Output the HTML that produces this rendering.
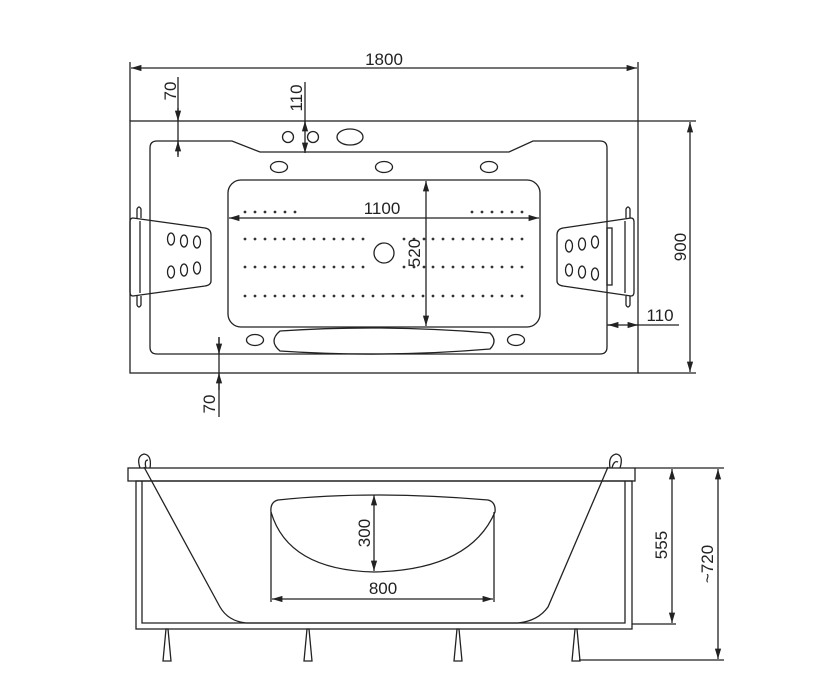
<!DOCTYPE html>
<html><head><meta charset="utf-8"><style>
html,body{margin:0;padding:0;background:#fff;}
svg{display:block;}
text{font-family:"Liberation Sans",sans-serif;font-size:17px;fill:#222;}
</style></head><body>
<svg width="826" height="698" viewBox="0 0 826 698" xmlns="http://www.w3.org/2000/svg">
<defs>
<marker id="a" viewBox="0 0 10 6" refX="10" refY="3" markerWidth="8" markerHeight="5" orient="auto-start-reverse"><path d="M0,0L10,3L0,6z" fill="#222"/></marker>
</defs>
<g fill="none" stroke="#222" stroke-width="1.3">
<line x1="130" y1="62" x2="130" y2="121"/>
<line x1="638" y1="62" x2="638" y2="121"/>
<line x1="131" y1="68" x2="637" y2="68" marker-start="url(#a)" marker-end="url(#a)"/>
<rect x="130" y="121" width="508" height="252"/>
<path d="M157,141 H232 L260,152 H509 L533,141 H600 Q607,141 607,148 V347 Q607,354 600,354 H157 Q150,354 150,347 V148 Q150,141 157,141 Z"/>
<rect x="228" y="180" width="312" height="147" rx="13"/>
<line x1="229" y1="218" x2="539" y2="218" marker-start="url(#a)" marker-end="url(#a)"/>
<line x1="426" y1="181" x2="426" y2="326" marker-start="url(#a)" marker-end="url(#a)"/>
<circle cx="384" cy="253" r="10"/>
<circle cx="288" cy="137" r="5.5"/>
<circle cx="313" cy="137" r="5.5"/>
<ellipse cx="350" cy="137" rx="13" ry="8"/>
<ellipse cx="279" cy="167" rx="8.5" ry="5.5"/>
<ellipse cx="384" cy="167" rx="8.5" ry="5.5"/>
<ellipse cx="489" cy="167" rx="8.5" ry="5.5"/>
<ellipse cx="255" cy="340" rx="8.5" ry="5.5"/>
<ellipse cx="516" cy="340" rx="8.5" ry="5.5"/>
<path d="M280,331 Q383,324 490,333 Q498,341 490,349 Q383,358 280,351 Q268,341 280,331 Z"/>
<path d="M133,218 L205,228 Q211,229 211,235 V281 Q211,285 205,286 L133,296 Q130,296 130,292 V222 Q130,218 133,218 Z"/>
<line x1="140" y1="221" x2="140" y2="293"/>
<path d="M137,218 V209 Q139,205 141,209 V218 M137,296 V305 Q139,309 141,305 V296"/>
<ellipse cx="171" cy="239" rx="3.5" ry="6"/><ellipse cx="184" cy="241" rx="3.5" ry="6"/><ellipse cx="197" cy="242" rx="3.5" ry="6"/>
<ellipse cx="171" cy="272" rx="3.5" ry="6"/><ellipse cx="184" cy="270" rx="3.5" ry="6"/><ellipse cx="197" cy="268" rx="3.5" ry="6"/>
<path d="M631,218 L563,228 Q557,229 557,235 V281 Q557,285 563,286 L631,296 Q634,296 634,292 V222 Q634,218 631,218 Z"/>
<line x1="625" y1="221" x2="625" y2="293"/>
<rect x="607" y="228" width="5" height="57"/>
<path d="M626,218 V209 Q628,205 630,209 V218 M626,296 V305 Q628,309 630,305 V296"/>
<ellipse cx="569" cy="246" rx="3.5" ry="6"/><ellipse cx="582" cy="244" rx="3.5" ry="6"/><ellipse cx="595" cy="242" rx="3.5" ry="6"/>
<ellipse cx="569" cy="270" rx="3.5" ry="6"/><ellipse cx="582" cy="272" rx="3.5" ry="6"/><ellipse cx="595" cy="274" rx="3.5" ry="6"/>
<line x1="638" y1="121" x2="696" y2="121"/>
<line x1="638" y1="373" x2="696" y2="373"/>
<line x1="690" y1="122" x2="690" y2="372" marker-start="url(#a)" marker-end="url(#a)"/>
<line x1="607" y1="325" x2="679" y2="325"/>
<line x1="618" y1="325" x2="608" y2="325" marker-end="url(#a)"/>
<line x1="628" y1="325" x2="638" y2="325" marker-end="url(#a)"/>
<line x1="178" y1="77" x2="178" y2="157"/>
<line x1="178" y1="108" x2="178" y2="121" marker-end="url(#a)"/>
<line x1="178" y1="155" x2="178" y2="141" marker-end="url(#a)"/>
<line x1="305" y1="82" x2="305" y2="153" marker-end="url(#a)"/>
<line x1="305" y1="125" x2="305" y2="121" marker-end="url(#a)"/>
<line x1="219" y1="337" x2="219" y2="417"/>
<line x1="219" y1="337" x2="219" y2="354" marker-end="url(#a)"/>
<line x1="219" y1="390" x2="219" y2="373" marker-end="url(#a)"/>

<rect x="128" y="468" width="507" height="13"/>
<rect x="136" y="481" width="496" height="148"/>
<polyline points="142,481 142,623 625,623 625,481"/>
<path d="M144,467 L220,607 Q228,621 246,623 L518,623 Q538,621 548,607 L608,467"/>
<path d="M140,468 Q136,456 144,454 Q152,455 150,468 M146,468 Q144,460 148,460"/>
<path d="M610,468 Q608,456 616,454 Q624,455 620,468 M612,468 Q614,460 618,462"/>
<path d="M166,629 L163,661 H171 L168,629 Z"/>
<path d="M307,629 L304,661 H312 L309,629 Z"/>
<path d="M457,629 L454,661 H462 L459,629 Z"/>
<path d="M575,629 L572,661 H580 L577,629 Z"/>
<path d="M278,500 Q372,490 488,500 Q496,502 495,512 Q470,570 374,572 Q288,570 271,512 Q270,502 278,500 Z"/>
<line x1="271" y1="512" x2="271" y2="602"/>
<line x1="494" y1="512" x2="494" y2="602"/>
<line x1="272" y1="599" x2="493" y2="599" marker-start="url(#a)" marker-end="url(#a)"/>
<line x1="374" y1="495" x2="374" y2="571" marker-start="url(#a)" marker-end="url(#a)"/>
<line x1="635" y1="468" x2="724" y2="468"/>
<line x1="632" y1="624" x2="676" y2="624"/>
<line x1="579" y1="660" x2="724" y2="660"/>
<line x1="672" y1="469" x2="672" y2="623" marker-start="url(#a)" marker-end="url(#a)"/>
<line x1="718" y1="469" x2="718" y2="659" marker-start="url(#a)" marker-end="url(#a)"/>
</g>
<text x="384" y="65" text-anchor="middle">1800</text>
<text x="382" y="214" text-anchor="middle">1100</text>
<text transform="translate(420,253) rotate(-90)" text-anchor="middle">520</text>
<text transform="translate(686,247) rotate(-90)" text-anchor="middle">900</text>
<text x="660" y="321" text-anchor="middle">110</text>
<text transform="translate(176,91) rotate(-90)" text-anchor="middle">70</text>
<text transform="translate(302,98) rotate(-90)" text-anchor="middle">110</text>
<text transform="translate(215,404) rotate(-90)" text-anchor="middle">70</text>
<text transform="translate(370,533) rotate(-90)" text-anchor="middle">300</text>
<text x="383" y="594" text-anchor="middle">800</text>
<text transform="translate(667,545) rotate(-90)" text-anchor="middle">555</text>
<text transform="translate(713,564) rotate(-90)" text-anchor="middle">~720</text>
<g fill="#333">
<circle cx="245" cy="212" r="1.4"/><circle cx="255" cy="212" r="1.4"/><circle cx="265" cy="212" r="1.4"/><circle cx="275" cy="212" r="1.4"/><circle cx="285" cy="212" r="1.4"/><circle cx="295" cy="212" r="1.4"/>
<circle cx="472" cy="212" r="1.4"/><circle cx="482" cy="212" r="1.4"/><circle cx="492" cy="212" r="1.4"/><circle cx="502" cy="212" r="1.4"/><circle cx="512" cy="212" r="1.4"/><circle cx="522" cy="212" r="1.4"/>
<circle cx="245" cy="239" r="1.4"/><circle cx="255" cy="239" r="1.4"/><circle cx="265" cy="239" r="1.4"/><circle cx="275" cy="239" r="1.4"/><circle cx="284" cy="239" r="1.4"/><circle cx="294" cy="239" r="1.4"/><circle cx="304" cy="239" r="1.4"/><circle cx="314" cy="239" r="1.4"/><circle cx="324" cy="239" r="1.4"/><circle cx="334" cy="239" r="1.4"/><circle cx="343" cy="239" r="1.4"/><circle cx="353" cy="239" r="1.4"/><circle cx="363" cy="239" r="1.4"/>
<circle cx="404" cy="239" r="1.4"/><circle cx="414" cy="239" r="1.4"/><circle cx="424" cy="239" r="1.4"/><circle cx="433" cy="239" r="1.4"/><circle cx="443" cy="239" r="1.4"/><circle cx="453" cy="239" r="1.4"/><circle cx="463" cy="239" r="1.4"/><circle cx="473" cy="239" r="1.4"/><circle cx="483" cy="239" r="1.4"/><circle cx="492" cy="239" r="1.4"/><circle cx="502" cy="239" r="1.4"/><circle cx="512" cy="239" r="1.4"/><circle cx="522" cy="239" r="1.4"/>
<circle cx="245" cy="267" r="1.4"/><circle cx="255" cy="267" r="1.4"/><circle cx="265" cy="267" r="1.4"/><circle cx="275" cy="267" r="1.4"/><circle cx="284" cy="267" r="1.4"/><circle cx="294" cy="267" r="1.4"/><circle cx="304" cy="267" r="1.4"/><circle cx="314" cy="267" r="1.4"/><circle cx="324" cy="267" r="1.4"/><circle cx="334" cy="267" r="1.4"/><circle cx="343" cy="267" r="1.4"/><circle cx="353" cy="267" r="1.4"/><circle cx="363" cy="267" r="1.4"/>
<circle cx="404" cy="267" r="1.4"/><circle cx="414" cy="267" r="1.4"/><circle cx="424" cy="267" r="1.4"/><circle cx="433" cy="267" r="1.4"/><circle cx="443" cy="267" r="1.4"/><circle cx="453" cy="267" r="1.4"/><circle cx="463" cy="267" r="1.4"/><circle cx="473" cy="267" r="1.4"/><circle cx="483" cy="267" r="1.4"/><circle cx="492" cy="267" r="1.4"/><circle cx="502" cy="267" r="1.4"/><circle cx="512" cy="267" r="1.4"/><circle cx="522" cy="267" r="1.4"/>
<circle cx="245" cy="296" r="1.4"/><circle cx="255" cy="296" r="1.4"/><circle cx="265" cy="296" r="1.4"/><circle cx="275" cy="296" r="1.4"/><circle cx="284" cy="296" r="1.4"/><circle cx="294" cy="296" r="1.4"/><circle cx="304" cy="296" r="1.4"/><circle cx="314" cy="296" r="1.4"/><circle cx="324" cy="296" r="1.4"/><circle cx="334" cy="296" r="1.4"/><circle cx="343" cy="296" r="1.4"/><circle cx="353" cy="296" r="1.4"/><circle cx="363" cy="296" r="1.4"/><circle cx="373" cy="296" r="1.4"/><circle cx="383" cy="296" r="1.4"/><circle cx="393" cy="296" r="1.4"/><circle cx="403" cy="296" r="1.4"/><circle cx="413" cy="296" r="1.4"/><circle cx="423" cy="296" r="1.4"/><circle cx="433" cy="296" r="1.4"/><circle cx="443" cy="296" r="1.4"/><circle cx="453" cy="296" r="1.4"/><circle cx="463" cy="296" r="1.4"/><circle cx="473" cy="296" r="1.4"/><circle cx="483" cy="296" r="1.4"/><circle cx="492" cy="296" r="1.4"/><circle cx="502" cy="296" r="1.4"/><circle cx="512" cy="296" r="1.4"/><circle cx="522" cy="296" r="1.4"/>
</g>
</svg>
</body></html>
